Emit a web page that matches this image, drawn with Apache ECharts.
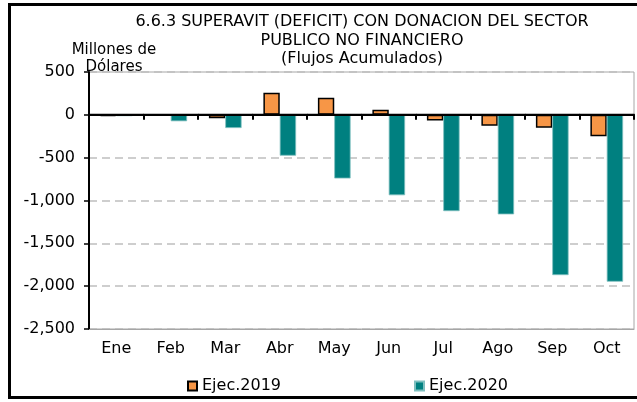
<!DOCTYPE html>
<html>
<head>
<meta charset="utf-8">
<script src="https://cdn.jsdelivr.net/npm/echarts@6/dist/echarts.min.js"></script>
<style>
  html, body { margin: 0; padding: 0; background: #fff; }
  #chart { width: 637px; height: 402px; }
</style>
</head>
<body>
<div id="chart"></div>
<script>
// Balance del SPNF con donaciones, flujos acumulados (millones de dólares)
const months = ['Ene', 'Feb', 'Mar', 'Abr', 'May', 'Jun', 'Jul', 'Ago', 'Sep', 'Oct'];
const ejec2019 = [-15, -12, -40, 258, 200, 58, -65, -127, -150, -250];
const ejec2020 = [-15, -75, -154, -477, -743, -939, -1124, -1162, -1871, -1948];
const seriesNames = ['Ejec.2019', 'Ejec.2020'];
const yMin = -2500, yMax = 500, yStep = 500;

const FONT = 'DejaVu Sans';

function withCommas(v) {
  const s = Math.abs(v).toString().replace(/\B(?=(\d{3})+(?!\d))/g, ',');
  return (v < 0 ? '-' : '') + s;
}

// Zero baseline: one black strip per category at value 0, placed by the axes
function renderBaseline(params, api) {
  const p = api.coord([api.value(0), 0]);
  const w = api.size([1, 0])[0];
  return {
    type: 'rect',
    shape: { x: p[0] - w / 2, y: p[1] - 1, width: w + 0.5, height: 2 },
    style: { fill: '#000' }
  };
}

const chart = echarts.init(document.getElementById('chart'), null, { renderer: 'canvas' });

chart.setOption({
  backgroundColor: '#ffffff',
  animation: false,
  textStyle: { fontFamily: FONT, color: '#000' },
  title: [
    {
      text: '6.6.3 SUPERAVIT (DEFICIT) CON DONACION DEL SECTOR\nPUBLICO NO FINANCIERO\n(Flujos Acumulados)',
      left: 357, top: 8, textAlign: 'center',
      textStyle: { fontFamily: FONT, fontSize: 16, fontWeight: 'normal', color: '#000', lineHeight: 18.5 }
    },
    {
      text: 'Millones de\nDólares',
      left: 109, top: 36, textAlign: 'center',
      textStyle: { fontFamily: FONT, fontSize: 15, fontWeight: 'normal', color: '#000', lineHeight: 17.5, align: 'center' }
    }
  ],
  graphic: [
    {
      type: 'rect', silent: true, z: 100,
      shape: { x: 9.5, y: 4.5, width: 640, height: 393 },
      style: { fill: 'transparent', stroke: '#000', lineWidth: 3 }
    }
  ],
  legend: [
    {
      data: [seriesNames[0]], left: 182, top: 373,
      icon: 'rect', itemWidth: 9, itemHeight: 9, itemGap: 6,
      textStyle: { fontFamily: FONT, fontSize: 16, color: '#000' }
    },
    {
      data: [seriesNames[1]], left: 409, top: 373,
      icon: 'rect', itemWidth: 9, itemHeight: 9, itemGap: 6,
      textStyle: { fontFamily: FONT, fontSize: 16, color: '#000' }
    }
  ],
  grid: {
    left: 89, right: 3, top: 72, bottom: 73,
    show: true, borderColor: '#a6a6a6', borderWidth: 1, backgroundColor: 'transparent'
  },
  xAxis: [
    {
      type: 'category', data: months, position: 'bottom',
      axisLine: { onZero: false, lineStyle: { color: '#a6a6a6', width: 1 } },
      axisTick: { show: false },
      axisLabel: { fontFamily: FONT, fontSize: 16, color: '#000', margin: 12 },
      splitLine: { show: false }
    },
    {
      // category ticks hanging below the zero baseline
      type: 'category', data: months, position: 'top', z: 5,
      axisLine: { onZero: true, lineStyle: { color: '#000', width: 2 } },
      axisTick: { show: true, inside: true, length: 5, lineStyle: { color: '#000', width: 2 } },
      axisLabel: { show: false },
      splitLine: { show: false }
    }
  ],
  yAxis: {
    type: 'value', min: yMin, max: yMax, interval: yStep,
    axisLine: { show: true, lineStyle: { color: '#000', width: 2 } },
    axisTick: { show: true, length: 5, lineStyle: { color: '#000', width: 1.5 } },
    axisLabel: { fontFamily: FONT, fontSize: 16, color: '#000', margin: 14, formatter: withCommas },
    splitLine: { show: true, lineStyle: { color: '#bfbfbf', width: 1.5, type: [8, 5] } }
  },
  series: [
    {
      name: seriesNames[0], type: 'bar', data: ejec2019, xAxisIndex: 0,
      barGap: '0%', barCategoryGap: '40%',
      itemStyle: { color: '#F79646', borderColor: '#000', borderWidth: 1.5 }
    },
    {
      name: seriesNames[1], type: 'bar', data: ejec2020, xAxisIndex: 0,
      barGap: '0%', barCategoryGap: '40%',
      itemStyle: { color: '#008080', borderColor: '#7fbfbf', borderWidth: 0.8 }
    },
    {
      name: 'base', type: 'custom', xAxisIndex: 0, z: 10, silent: true,
      renderItem: renderBaseline,
      encode: { x: 0, y: 1 },
      data: months.map(function (m) { return [m, 0]; })
    }
  ]
});
</script>
</body>
</html>
